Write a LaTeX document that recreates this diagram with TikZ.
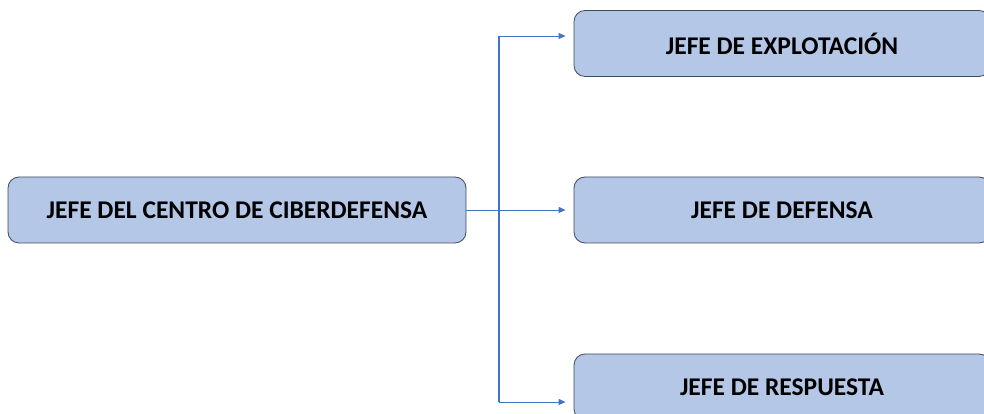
\documentclass[tikz,border=0pt]{standalone}
\usepackage{fontspec}
\setmainfont{Carlito}
\usetikzlibrary{arrows.meta}
\definecolor{boxfill}{HTML}{B4C7E7}
\definecolor{boxline}{HTML}{3E4A5E}
\definecolor{linkblue}{HTML}{4472C4}
\begin{document}
\begin{tikzpicture}[x=1pt,y=1pt,
  orgbox/.style={draw=boxline, line width=0.8pt, fill=boxfill, rounded corners=11pt,
    minimum height=66pt, inner sep=0pt, font=\fontsize{25.5}{30}\selectfont\bfseries},
  link/.style={draw=linkblue, line width=0.9pt},
  linkarrow/.style={link, -{Triangle[length=7pt,width=6pt]}, shorten >=8pt}]
\useasboundingbox (0,0) rectangle (984,414);
\clip (0,0) rectangle (984,414);
% boxes
\node[orgbox, minimum width=458pt] (chief) at (237,204) {JEFE DEL CENTRO DE CIBERDEFENSA};
\node[orgbox, minimum width=416pt] (expl) at (782,370.5) {JEFE DE EXPLOTACIÓN};
\node[orgbox, minimum width=416pt] (def) at (782,204) {JEFE DE DEFENSA};
\node[orgbox, minimum width=416pt] (resp) at (782,27) {JEFE DE RESPUESTA};
% connectors
\coordinate (jtop) at (499,378);
\coordinate (jbot) at (499,12);
\draw[link, line width=1.4pt] (jtop) -- (jbot);
\draw[linkarrow] (chief.east) -- (chief.east -| def.west);
\draw[linkarrow] (jtop) -- (jtop -| expl.west);
\draw[linkarrow] (jbot) -- (jbot -| resp.west);
\end{tikzpicture}
\end{document}
